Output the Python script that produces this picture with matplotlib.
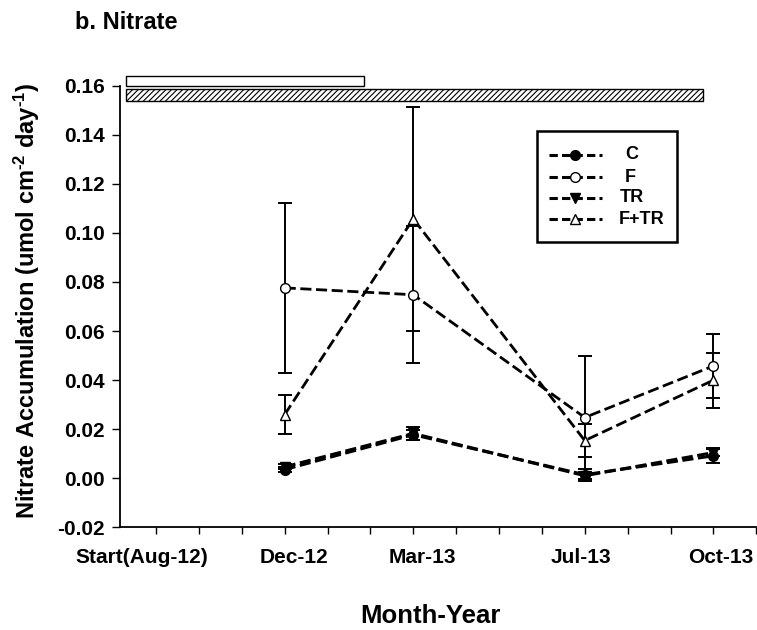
import matplotlib
matplotlib.use('Agg')
import matplotlib.pyplot as plt
from matplotlib.patches import Rectangle
from matplotlib.lines import Line2D

plt.rcParams['font.family'] = ['Liberation Sans', 'DejaVu Sans']
plt.rcParams['font.weight'] = 'bold'
plt.rcParams['axes.unicode_minus'] = False
plt.rcParams['lines.scale_dashes'] = False
plt.rcParams['hatch.linewidth'] = 0.8
plt.rcParams['mathtext.fontset'] = 'custom'
plt.rcParams['mathtext.rm'] = 'Liberation Sans:bold'
plt.rcParams['mathtext.bf'] = 'Liberation Sans:bold'
plt.rcParams['mathtext.default'] = 'bf'

# sampling months, counted from Aug-12 = 0
months = [4, 7, 11, 14]
tick_pos = [0.67, 4.21, 7.21, 10.91, 14.17]
tick_labels = ['Start(Aug-12)', 'Dec-12', 'Mar-13', 'Jul-13', 'Oct-13']

C = [0.0036, 0.0178, 0.0015, 0.0092]
C_err = [0.0010, 0.0020, 0.0025, 0.0030]
F = [0.0776, 0.0748, 0.0248, 0.0458]
F_err = [0.0346, 0.0278, 0.0252, 0.0130]
TR = [0.0047, 0.0183, 0.0011, 0.0105]
TR_err = [0.0010, 0.0025, 0.0015, 0.0015]
FTR = [0.0260, 0.1057, 0.0154, 0.0400]
FTR_err = [0.0078, 0.0455, 0.0066, 0.0112]

# treatment period bars above the plot (x range in months, y range in data units)
open_bar = (0.31, 5.85, 0.1600, 0.1638)
hatch_bar = (0.31, 13.75, 0.1536, 0.1585)

fig = plt.figure(figsize=(7.57, 6.3), dpi=100)
ax = fig.add_axes([0.158, 0.1627, 0.841, 0.7015])

dash = (0, (8, 3.3))
series = [
    ('C', C, C_err, 'o', 'black', 2.2),
    ('F', F, F_err, 'o', 'white', 2.0),
    ('TR', TR, TR_err, 'v', 'black', 2.2),
    ('F+TR', FTR, FTR_err, '^', 'white', 2.0),
]
for name, vals, errs, mk, fc, lw in series:
    ax.errorbar(months, vals, yerr=errs, fmt='none', ecolor='black',
                elinewidth=1.4, capsize=4.7, capthick=1.4, zorder=2)
    ax.plot(months, vals, color='black', linestyle=dash, linewidth=lw,
            marker=mk, markersize=7, markerfacecolor=fc,
            markeredgecolor='black', markeredgewidth=1.0, zorder=3)

x0, x1, y0, y1 = open_bar
ax.add_patch(Rectangle((x0, y0), x1 - x0, y1 - y0, facecolor='white',
                       edgecolor='black', linewidth=1.0, clip_on=False))
x0, x1, y0, y1 = hatch_bar
ax.add_patch(Rectangle((x0, y0), x1 - x0, y1 - y0, facecolor='white',
                       edgecolor='black', linewidth=1.0, hatch='//////',
                       clip_on=False))

ax.set_xlim(0.15, 15.0)
ax.set_ylim(-0.02, 0.16)
ax.set_yticks([-0.02 + 0.02 * i for i in range(10)])
ax.set_yticklabels(['%.2f' % (-0.02 + 0.02 * i) for i in range(10)])
ax.set_xticks(tick_pos)
ax.set_xticklabels(tick_labels)
ax.set_xticks(range(1, 16), minor=True)
ax.tick_params(axis='x', which='major', length=0, pad=15, labelsize=15)
ax.tick_params(axis='x', which='minor', length=5, width=1.0, direction='out')
ax.tick_params(axis='y', length=5.5, width=1.0, pad=5, labelsize=15)
for s in ['top', 'right']:
    ax.spines[s].set_visible(False)
for s in ['left', 'bottom']:
    ax.spines[s].set_linewidth(1.3)

# legend box drawn by hand so the labels sit centred in their column
ax.add_patch(Rectangle((0.656, 0.647), 0.219, 0.25, transform=ax.transAxes,
                       facecolor='white', edgecolor='black', linewidth=1.8,
                       zorder=5))
rows = [0.843, 0.793, 0.746, 0.698]
label_x = [0.804, 0.802, 0.805, 0.820]
for (name, vals, errs, mk, fc, lw), yy, lx in zip(series, rows, label_x):
    ax.add_line(Line2D([0.675, 0.757], [yy, yy], transform=ax.transAxes,
                       color='black', linestyle=(0, (6, 3)), linewidth=2.2,
                       zorder=6))
    ax.add_line(Line2D([0.716], [yy], transform=ax.transAxes, marker=mk,
                       markersize=7, markerfacecolor=fc,
                       markeredgecolor='black', markeredgewidth=1.0,
                       linestyle='none', zorder=7))
    ax.text(lx, yy, name, transform=ax.transAxes, ha='center',
            va='center', fontsize=13, fontweight='bold', zorder=7)

fig.text(0.099, 0.964, 'b. Nitrate', fontsize=17, fontweight='bold',
         ha='left', va='center')
fig.text(0.035, 0.522,
         r'Nitrate Accumulation (umol cm$^{\text{-2}}$ day$^{\text{-1}}$)',
         rotation=90, fontsize=17, fontweight='bold', ha='center', va='center')
fig.text(0.568, 0.022, 'Month-Year', fontsize=18.5, fontweight='bold',
         ha='center', va='center')

fig.savefig('out.png', dpi=100)
